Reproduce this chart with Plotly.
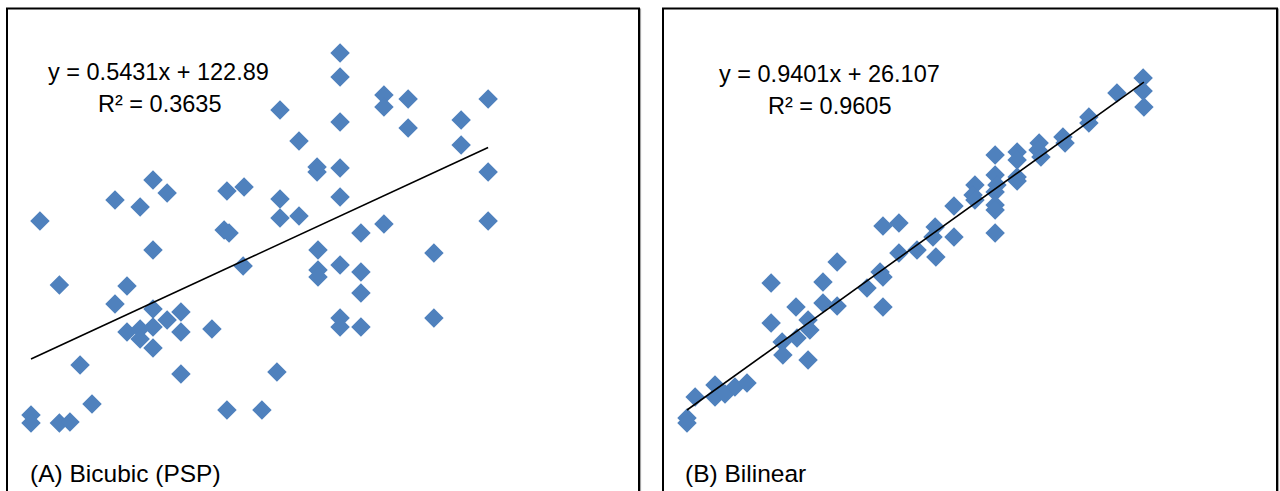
import numpy as np
import plotly.graph_objects as go

# ---------------- data ----------------
# Panel A: Bicubic (PSP)
bicubic_x = [231.7, 231.7, 250.4, 260.7, 294.8, 250.4, 206.1, 231.7, 283.3, 260.7,
             214.2, 283.3, 221.9, 231.7, 221.9, 294.8, 152.0, 158.0, 183.5, 190.8,
             135.8, 146.5, 206.1, 231.7, 103.8, 206.1, 214.2, 250.4, 294.8, 182.3,
             184.4, 240.6, 152.0, 222.3, 271.7, 190.4, 231.7, 112.1, 140.9, 222.3,
             222.3, 240.6, 240.6, 135.8, 152.0, 163.9, 158.0, 271.7, 231.7, 231.7,
             240.6, 140.9, 146.5, 146.5, 152.0, 152.0, 163.9, 177.1, 120.9, 163.9,
             204.8, 126.0, 100.0, 100.0, 112.1, 116.6, 183.5, 198.4]
bicubic_y = [330.2, 318.2, 309.2, 307.2, 307.2, 303.2, 301.7, 295.7, 296.7, 292.7,
             286.2, 284.2, 273.2, 272.7, 270.7, 270.7, 266.7, 260.2, 261.2, 263.2,
             256.7, 253.2, 257.2, 258.2, 246.2, 247.7, 248.7, 244.7, 246.2, 241.7,
             240.2, 240.2, 231.7, 231.7, 230.2, 223.7, 224.2, 214.2, 213.7, 221.7,
             218.2, 220.7, 210.2, 204.7, 202.2, 200.7, 196.7, 197.7, 197.7, 193.2,
             193.2, 190.7, 192.2, 187.2, 193.2, 182.7, 190.7, 192.2, 174.2, 169.7,
             170.7, 154.7, 149.2, 145.2, 145.2, 145.7, 151.7, 151.7]
bicubic_slope, bicubic_intercept = 0.5431, 122.89
bicubic_eq = "y = 0.5431x + 122.89"
bicubic_r2 = "R² = 0.3635"
bicubic_label = "(A) Bicubic (PSP)"

# Panel B: Bilinear
bilinear_x = [100.0, 100.0, 103.1, 110.7, 110.7, 114.5, 118.3, 122.9, 132.1, 132.1,
              136.3, 136.6, 142.0, 141.6, 146.2, 146.9, 146.2, 151.9, 151.9, 157.3,
              157.3, 168.7, 173.7, 174.8, 174.8, 174.8, 180.9, 180.9, 187.8, 194.7,
              193.9, 195.0, 201.9, 201.9, 209.9, 209.2, 209.9, 217.6, 217.6, 218.3,
              217.6, 217.6, 217.6, 217.6, 226.0, 226.0, 226.0, 226.0, 234.4, 234.0,
              235.1, 243.5, 244.3, 253.4, 253.4, 264.1, 274.1, 274.1, 274.4]
bilinear_y = [116.1, 113.6, 126.6, 132.6, 126.6, 128.1, 131.6, 133.6, 183.6, 163.6,
              154.1, 147.6, 156.1, 171.6, 165.1, 160.1, 145.1, 184.1, 173.6, 194.1,
              172.1, 181.1, 189.1, 186.6, 171.6, 212.1, 213.6, 198.6, 200.1, 211.6,
              206.6, 196.6, 206.6, 222.1, 232.6, 227.6, 225.1, 247.6, 237.6, 232.6,
              229.1, 222.6, 220.1, 208.6, 249.1, 245.1, 236.6, 234.6, 253.6, 250.1,
              246.6, 256.6, 253.6, 266.6, 263.6, 278.6, 286.1, 279.6, 271.6]
bilinear_slope, bilinear_intercept = 0.9401, 26.107
bilinear_eq = "y = 0.9401x + 26.107"
bilinear_r2 = "R² = 0.9605"
bilinear_label = "(B) Bilinear"

# ---------------- styling ----------------
W, H = 1280, 491
MARKER = "#4F81BD"
FONT = "'Liberation Sans', Arial, sans-serif"
FS_EQ = 23.5
FS_LABEL = 24.5


def px(v):
    return v / W


def py(v):
    return 1 - v / H


fig = go.Figure()

for i, (xs, ys, m, b) in enumerate([
        (bicubic_x, bicubic_y, bicubic_slope, bicubic_intercept),
        (bilinear_x, bilinear_y, bilinear_slope, bilinear_intercept)]):
    xa = "x" if i == 0 else "x2"
    ya = "y" if i == 0 else "y2"
    fig.add_trace(go.Scatter(
        x=xs, y=ys, mode="markers", xaxis=xa, yaxis=ya,
        marker=dict(symbol="diamond", size=15, color=MARKER, line=dict(width=0)),
        cliponaxis=False, showlegend=False, hoverinfo="skip"))
    lx = np.array([min(xs), max(xs)])
    fig.add_trace(go.Scatter(
        x=lx, y=m * lx + b, mode="lines", xaxis=xa, yaxis=ya,
        line=dict(color="black", width=1.6), cliponaxis=False,
        showlegend=False, hoverinfo="skip"))

ax_common = dict(visible=False, showgrid=False, zeroline=False, fixedrange=True)

fig.update_layout(
    width=W, height=H,
    margin=dict(l=0, r=0, t=0, b=0),
    paper_bgcolor="white", plot_bgcolor="white",
    xaxis=dict(domain=[px(7), px(639)], range=[89.77, 359.1], anchor="y", **ax_common),
    yaxis=dict(domain=[0, py(8)], range=[111.2, 352.7], anchor="x", **ax_common),
    xaxis2=dict(domain=[px(663), px(1277)], range=[90.84, 325.2], anchor="y2", **ax_common),
    yaxis2=dict(domain=[0, py(8)], range=[79.62, 321.12], anchor="x2", **ax_common),
)

# panel frames (bottom edge continues past the page)
for (l, r) in [(7, 639), (663, 1277)]:
    fig.add_shape(type="rect", xref="paper", yref="paper",
                  x0=px(l), x1=px(r), y0=-0.1, y1=py(8.5),
                  line=dict(color="black", width=2), fillcolor="rgba(0,0,0,0)",
                  layer="above")
    fig.add_shape(type="line", xref="paper", yref="paper",
                  x0=px(r + 1.6), x1=px(r + 1.6), y0=-0.1, y1=py(8.5),
                  line=dict(color="#9a9a9a", width=1), layer="above")

texts = [
    (bicubic_eq, 158, 72, "center", FS_EQ),
    (bicubic_r2, 159, 104, "center", FS_EQ),
    (bilinear_eq, 829.5, 74, "center", FS_EQ),
    (bilinear_r2, 829, 106, "center", FS_EQ),
    (bicubic_label, 28, 473, "left", FS_LABEL),
    (bilinear_label, 683, 473, "left", FS_LABEL),
]
for t, x, y, anc, fs in texts:
    fig.add_annotation(text=t, xref="paper", yref="paper", x=px(x), y=py(y),
                       xanchor=anc, yanchor="middle", showarrow=False,
                       font=dict(family=FONT, size=fs, color="black"))

fig.write_html(
    "out.html",
    config={"displayModeBar": False, "staticPlot": True},
    post_script="document.body.style.margin='0';document.body.style.overflow='hidden';",
)
